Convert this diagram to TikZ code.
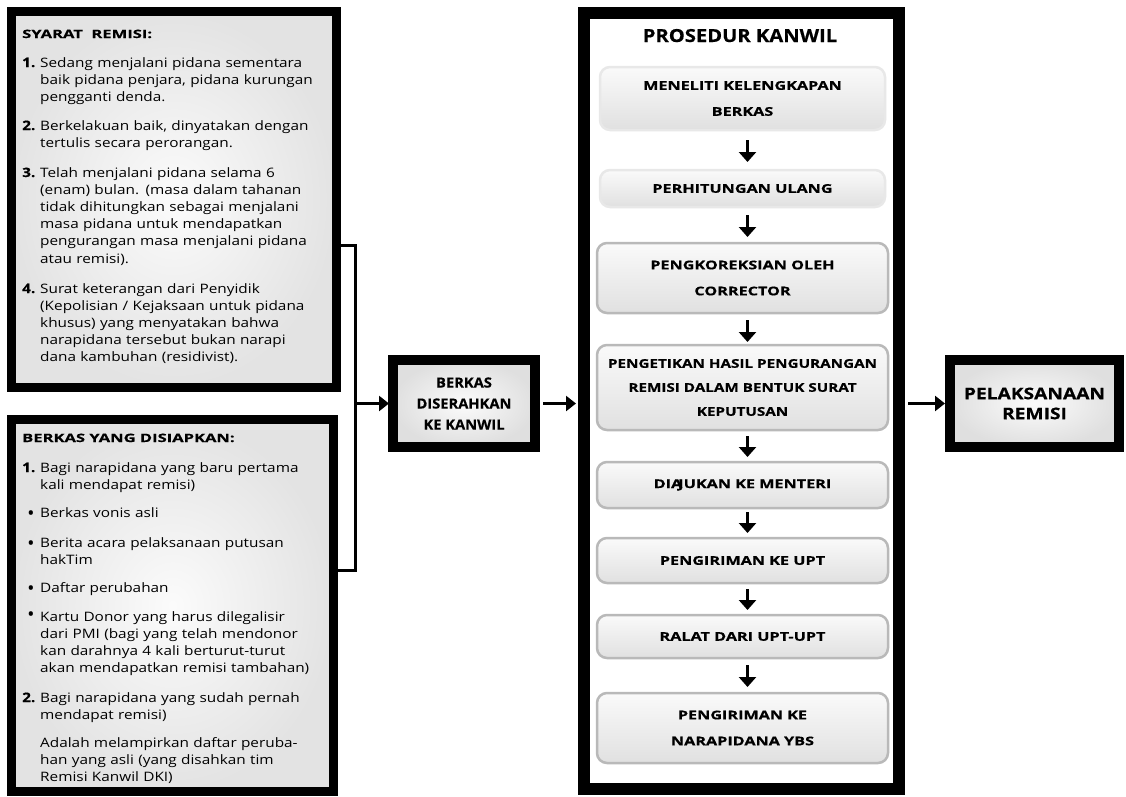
\documentclass[tikz,border=0pt]{standalone}
\usepackage{fontspec}
\setmainfont{Open Sans}
\usetikzlibrary{arrows.meta}
\newcommand\stretchf[1]{\addfontfeature{FakeStretch=#1}}
\newcommand\heavyf[1]{\addfontfeature{FakeStretch=#1,FakeBold=0.4}}
\begin{document}
\begin{tikzpicture}[x=1pt,y=-1pt,
  frame/.style={draw=black, line width=9pt, inner sep=0pt, outer sep=0pt, inner color=gray!3, outer color=gray!22},
  bigframe/.style={draw=black, line width=12pt, inner sep=0pt, outer sep=0pt, fill=white},
  midframe/.style={draw=black, line width=10pt, inner sep=0pt, outer sep=0pt, inner color=gray!3, outer color=gray!25, align=center},
  pbox/.style={draw=gray!55, line width=2.5pt, rounded corners=10pt, top color=gray!4, bottom color=gray!24, inner sep=0pt, outer sep=0pt, align=center, font=\fontsize{12}{26}\selectfont\bfseries\heavyf{1.35}},
  softbox/.style={pbox, draw=gray!18},
  ltitle/.style={anchor=base west, inner sep=0pt, font=\fontsize{11.5}{14}\selectfont\bfseries\heavyf{1.44}},
  num/.style={anchor=base west, inner sep=0pt, font=\fontsize{13}{17}\selectfont\bfseries\heavyf{1.18}},
  bul/.style={anchor=base, inner sep=0pt, font=\fontsize{15}{17}\selectfont\bfseries},
  body/.style={anchor=base west, inner sep=0pt, text width=300pt, align=left, font=\fontsize{13}{17.2}\selectfont\stretchf{1.18}},
  brk/.style={line width=3pt, line join=miter},
  harr/.style={line width=3.5pt, -{Triangle[length=10pt,width=15pt]}},
  varr/.style={line width=3pt, -{Triangle[length=10pt,width=17pt]}, shorten <=6pt, shorten >=5pt}
]
\useasboundingbox (0,0) rectangle (1126,796);

% left boxes
\node[frame, minimum width=325pt, minimum height=376pt] (lt) at (174,199.5) {};
\node[frame, minimum width=322pt, minimum height=372pt] (lb) at (172.5,605.5) {};

\node[ltitle] (tt) at (22,38) {SYARAT\ \ REMISI:};
\node[num] (n1) at (22,67) {1.};
\node[body] (t1) at (40,67) {Sedang menjalani pidana sementara\\baik pidana penjara, pidana kurungan\\pengganti denda.};
\node[num] (n2) at (22,130) {2.};
\node[body] (t2) at (40,130) {Berkelakuan baik, dinyatakan dengan\\tertulis secara perorangan.};
\node[num] (n3) at (22,177) {3.};
\node[body] (t3) at (40,177) {Telah menjalani pidana selama 6\\(enam) bulan. (masa dalam tahanan\\tidak dihitungkan sebagai menjalani\\masa pidana untuk mendapatkan\\pengurangan masa menjalani pidana\\atau remisi).};
\node[num] (n4) at (22,293) {4.};
\node[body] (t4) at (40,293) {Surat keterangan dari Penyidik\\(Kepolisian / Kejaksaan untuk pidana\\khusus) yang menyatakan bahwa\\narapidana tersebut bukan narapi\\dana kambuhan (residivist).};

\node[ltitle] (bt) at (22,442) {BERKAS YANG DISIAPKAN:};
\node[num] (m1) at (22,472) {1.};
\node[body] (s1) at (40,472) {Bagi narapidana yang baru pertama\\kali mendapat remisi)};
\node[bul] (b1) at (31,518) {•};
\node[body] (s2) at (40,517) {Berkas vonis asli};
\node[bul] (b2) at (31,548) {•};
\node[body] (s3) at (40,547) {Berita acara pelaksanaan putusan\\hakTim};
\node[bul] (b3) at (31,593) {•};
\node[body] (s4) at (40,592) {Daftar perubahan};
\node[bul] (b4) at (31,619) {•};
\node[body] (s5) at (40,621) {Kartu Donor yang harus dilegalisir\\dari PMI (bagi yang telah mendonor\\kan darahnya 4 kali berturut-turut\\akan mendapatkan remisi tambahan)};
\node[num] (m2) at (22,702) {2.};
\node[body] (s6) at (40,702) {Bagi narapidana yang sudah pernah\\mendapat remisi)};
\node[body] (s7) at (40,747) {Adalah melampirkan daftar peruba-\\han yang asli (yang disahkan tim\\Remisi Kanwil DKI)};

% middle box
\node[midframe, minimum width=142pt, minimum height=87pt, font=\fontsize{14}{21}\selectfont\bfseries\heavyf{1.05}] (mid) at (464,403.5) {BERKAS\\DISERAHKAN\\KE KANWIL};

% procedure box
\node[bigframe, minimum width=315pt, minimum height=776pt] (proc) at (741.5,401) {};
\node[anchor=base, inner sep=0pt, font=\fontsize{18}{22}\selectfont\bfseries\heavyf{1.12}] (ptitle) at (740,42) {PROSEDUR KANWIL};

\node[softbox, minimum width=285pt, minimum height=63pt] (p1) at (742.5,98.5) {MENELITI KELENGKAPAN\\BERKAS};
\node[softbox, minimum width=285pt, minimum height=37pt] (p2) at (742.5,188.5) {PERHITUNGAN ULANG};
\node[pbox, minimum width=291pt, minimum height=70pt] (p3) at (742.5,278) {PENGKOREKSIAN OLEH\\CORRECTOR};
\node[pbox, minimum width=291pt, minimum height=85pt, font=\fontsize{12}{24}\selectfont\bfseries\heavyf{1.27}] (p4) at (742.5,387.5) {PENGETIKAN HASIL PENGURANGAN\\REMISI DALAM BENTUK SURAT\\KEPUTUSAN};
\node[pbox, minimum width=291pt, minimum height=46pt] (p5) at (742.5,485) {DIA\kern-4pt JUKAN KE MENTERI};
\node[pbox, minimum width=291pt, minimum height=45pt] (p6) at (742.5,560.5) {PENGIRIMAN KE UPT};
\node[pbox, minimum width=291pt, minimum height=43pt] (p7) at (742.5,636.5) {RALAT DARI UPT-UPT};
\node[pbox, minimum width=291pt, minimum height=70pt] (p8) at (742.5,728) {PENGIRIMAN KE\\NARAPIDANA YBS};

\draw[varr, shorten <=10pt, shorten >=8pt] ([xshift=5pt]p1.south) -- ([xshift=5pt]p2.north);
\draw[varr, shorten <=8pt, shorten >=6pt] ([xshift=5pt]p2.south) -- ([xshift=5pt]p3.north);
\draw[varr, shorten <=7pt, shorten >=3pt] ([xshift=5pt]p3.south) -- ([xshift=5pt]p4.north);
\draw[varr] ([xshift=5pt]p4.south) -- ([xshift=5pt]p5.north);
\draw[varr, shorten <=4pt] ([xshift=5pt]p5.south) -- ([xshift=5pt]p6.north);
\draw[varr] ([xshift=5pt]p6.south) -- ([xshift=5pt]p7.north);
\draw[varr, shorten <=7pt, shorten >=6pt] ([xshift=5pt]p7.south) -- ([xshift=5pt]p8.north);

% right box
\node[midframe, minimum width=169pt, minimum height=87pt, font=\fontsize{16}{20}\selectfont\bfseries\heavyf{1.2}] (rb) at (1034.5,403.5) {PELAKSANAAN\\REMISI};

% connectors
\coordinate (jt) at (355,245);
\coordinate (jb) at (355,570);
\draw[brk] (lt.east |- jt) -- (jt) -- (jb) -- (lb.east |- jb);
\draw[harr, shorten >=4pt] (jt |- mid.west) -- (mid.west);
\draw[harr, shorten <=8pt, shorten >=8pt] (mid.east) -- (proc.west |- mid.east);
\draw[harr, shorten <=9pt, shorten >=5pt] (proc.east |- rb.west) -- (rb.west);
\end{tikzpicture}
\end{document}
